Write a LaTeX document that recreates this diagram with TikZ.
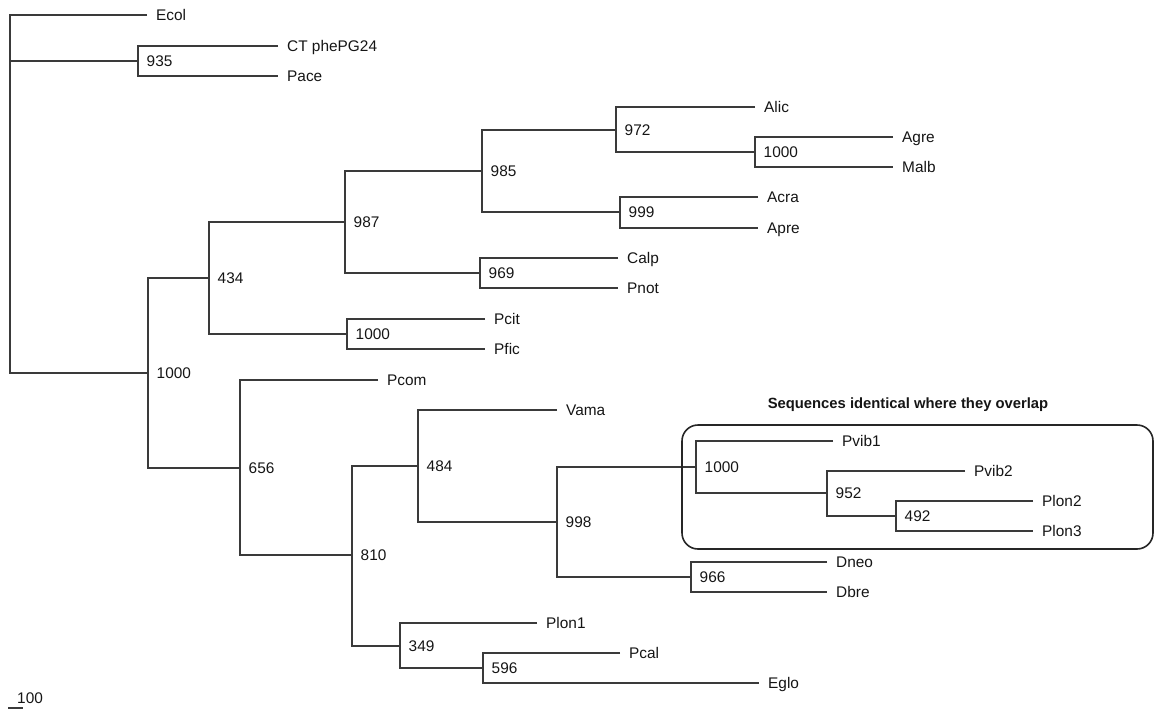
\documentclass[tikz,border=0pt]{standalone}
\usepackage{fontspec}
\setmainfont{Liberation Sans}
\definecolor{branch}{HTML}{3A3A3A}
\definecolor{ink}{HTML}{151515}
\begin{document}
\begin{tikzpicture}[x=1pt,y=-1pt,
  br/.style={draw=branch, line width=1.3pt},
  lbl/.style={text=ink, inner ysep=0pt, text height=11pt, text depth=0pt,
              font=\fontsize{15.4}{18}\selectfont},
  leaf/.style={lbl, anchor=west, inner xsep=9pt},
  boot/.style={lbl, anchor=west, inner xsep=0pt, xshift=8.5pt},
  title/.style={text=ink, inner sep=0pt, text height=11pt, text depth=0pt,
                font=\fontsize{14.8}{18}\selectfont\bfseries},
  grp/.style={draw=black!85, line width=1.6pt, rounded corners=16pt}]
\useasboundingbox (0,0) rectangle (1155,710);

% internal nodes
\coordinate (root)  at (10,194);
\coordinate (n935)  at (138,61);
\coordinate (nA)    at (148,373);
\coordinate (n434)  at (209,278);
\coordinate (n987)  at (345,222);
\coordinate (n985)  at (482,171);
\coordinate (n972)  at (616,130);
\coordinate (nAg)   at (755,152);
\coordinate (n999)  at (620,212);
\coordinate (n969)  at (480,273);
\coordinate (nPc)   at (347,334);
\coordinate (n656)  at (240,468);
\coordinate (n810)  at (352,555);
\coordinate (n484)  at (418,466);
\coordinate (n998)  at (557,522);
\coordinate (nPv)   at (696,467);
\coordinate (n952)  at (827,493);
\coordinate (n492)  at (896,516);
\coordinate (n966)  at (691,577);
\coordinate (n349)  at (400,646);
\coordinate (n596)  at (483,668);

% leaves
\node[leaf] (Ecol)  at (147,15)  {Ecol};
\node[leaf] (CT)    at (278,46)  {CT phePG24};
\node[leaf] (Pace)  at (278,76)  {Pace};
\node[leaf] (Alic)  at (755,107) {Alic};
\node[leaf] (Agre)  at (893,137) {Agre};
\node[leaf] (Malb)  at (893,167) {Malb};
\node[leaf] (Acra)  at (758,197) {Acra};
\node[leaf] (Apre)  at (758,228) {Apre};
\node[leaf] (Calp)  at (618,258) {Calp};
\node[leaf] (Pnot)  at (618,288) {Pnot};
\node[leaf] (Pcit)  at (485,319) {Pcit};
\node[leaf] (Pfic)  at (485,349) {Pfic};
\node[leaf] (Pcom)  at (378,380) {Pcom};
\node[leaf] (Vama)  at (557,410) {Vama};
\node[leaf] (Pvib1) at (833,441) {Pvib1};
\node[leaf] (Pvib2) at (965,471) {Pvib2};
\node[leaf] (Plon2) at (1033,501) {Plon2};
\node[leaf] (Plon3) at (1033,531) {Plon3};
\node[leaf] (Dneo)  at (827,562) {Dneo};
\node[leaf] (Dbre)  at (827,592) {Dbre};
\node[leaf] (Plon1) at (537,623) {Plon1};
\node[leaf] (Pcal)  at (620,653) {Pcal};
\node[leaf] (Eglo)  at (759,683) {Eglo};

% bootstrap values
\node[boot] (b935)  at (n935) {935};
\node[boot] (bA)    at (nA)   {1000};
\node[boot] (b434)  at (n434) {434};
\node[boot] (b987)  at (n987) {987};
\node[boot] (b985)  at (n985) {985};
\node[boot] (b972)  at (n972) {972};
\node[boot] (bAg)   at (nAg)  {1000};
\node[boot] (b999)  at (n999) {999};
\node[boot] (b969)  at (n969) {969};
\node[boot] (bPc)   at (nPc)  {1000};
\node[boot] (b656)  at (n656) {656};
\node[boot] (b810)  at (n810) {810};
\node[boot] (b484)  at (n484) {484};
\node[boot] (b998)  at (n998) {998};
\node[boot] (bPv)   at (nPv)  {1000};
\node[boot] (b952)  at (n952) {952};
\node[boot] (b492)  at (n492) {492};
\node[boot] (b966)  at (n966) {966};
\node[boot] (b349)  at (n349) {349};
\node[boot] (b596)  at (n596) {596};

% branches
\draw[br] (Ecol.west) -| (root) |- (nA);
\draw[br] (root) |- (n935);
\draw[br] (CT.west) -| (n935) |- (Pace.west);
\draw[br] (n434) -| (nA) |- (n656);
\draw[br] (n987) -| (n434) |- (nPc);
\draw[br] (n985) -| (n987) |- (n969);
\draw[br] (n972) -| (n985) |- (n999);
\draw[br] (Alic.west) -| (n972) |- (nAg);
\draw[br] (Agre.west) -| (nAg) |- (Malb.west);
\draw[br] (Acra.west) -| (n999) |- (Apre.west);
\draw[br] (Calp.west) -| (n969) |- (Pnot.west);
\draw[br] (Pcit.west) -| (nPc) |- (Pfic.west);
\draw[br] (Pcom.west) -| (n656) |- (n810);
\draw[br] (n484) -| (n810) |- (n349);
\draw[br] (Vama.west) -| (n484) |- (n998);
\draw[br] (nPv) -| (n998) |- (n966);
\draw[br] (Pvib1.west) -| (nPv) |- (n952);
\draw[br] (Pvib2.west) -| (n952) |- (n492);
\draw[br] (Plon2.west) -| (n492) |- (Plon3.west);
\draw[br] (Dneo.west) -| (n966) |- (Dbre.west);
\draw[br] (Plon1.west) -| (n349) |- (n596);
\draw[br] (Pcal.west) -| (n596) |- (Eglo.west);

% group box and title
\coordinate (boxA) at (682,425);
\coordinate (boxB) at (1153,549);
\draw[grp] (boxA) rectangle (boxB);
\node[title] (ttl) at (908,403) {Sequences identical where they overlap};

% scale bar
\coordinate (sbA) at (8,708);
\coordinate (sbB) at (23,708);
\draw[br, line width=1.4pt] (sbA) -- (sbB);
\node[lbl, anchor=west, inner xsep=0pt] (sbl) at (17,698) {100};
\end{tikzpicture}
\end{document}
